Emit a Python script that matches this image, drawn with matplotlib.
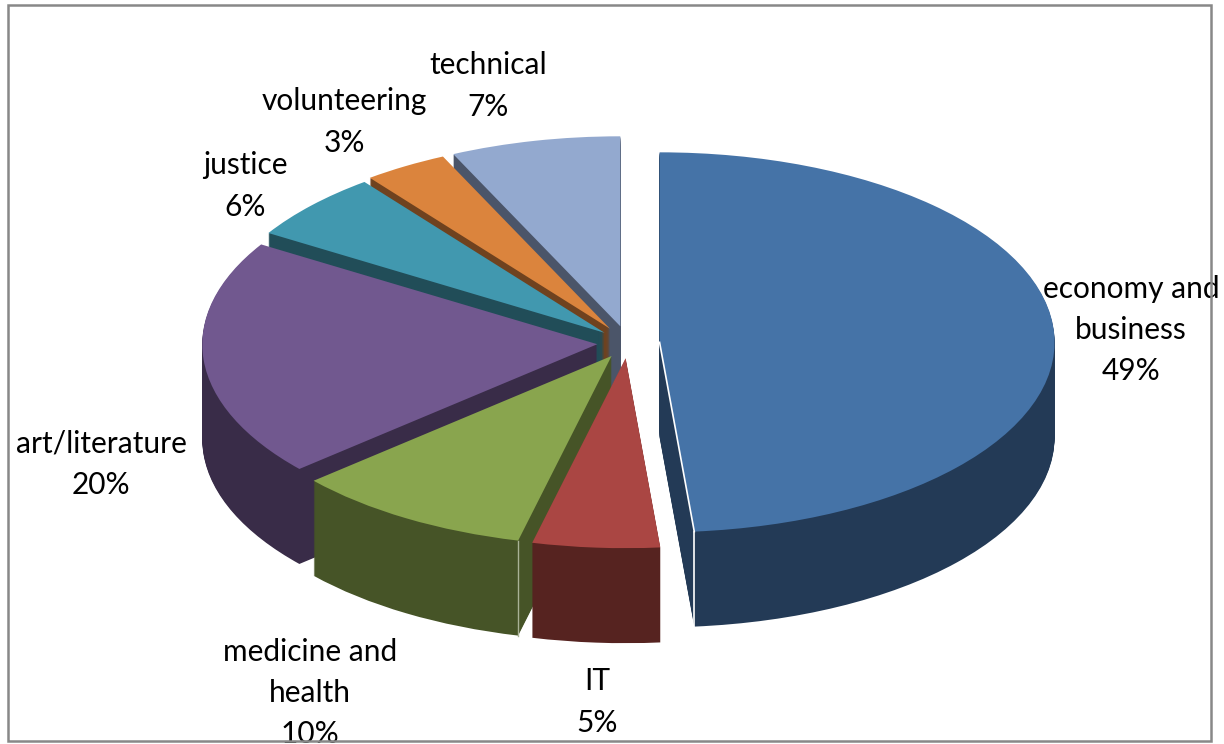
import matplotlib
matplotlib.use("Agg")
import numpy as np
import matplotlib.pyplot as plt
from matplotlib.patches import Rectangle

W, H = 1224, 744

categories = ["economy and\nbusiness", "IT", "medicine and\nhealth", "art/literature",
              "justice", "volunteering", "technical"]
values = [48.6, 5.2, 9.8, 20.2, 5.8, 3.45, 6.95]
top_colors = ["#4573A7", "#AA4643", "#89A54E", "#71588F", "#4198AF", "#DB843D", "#93A9CF"]
side_colors = ["#233A56", "#562320", "#465427", "#392C48", "#214D58", "#6F421F", "#4B5569"]
explode = [0.08, 0.08, 0.08, 0.078, 0.08, 0.088, 0.09]
# painter's order: back slices first
draw_order = [6, 5, 4, 3, 0, 2, 1]
label_pos_px = [(1131, 330), (597, 702), (310, 693), (101, 464), (245, 186), (344, 122), (488, 86)]

cx, cy, rx, ry, depth_px = 628, 343, 395, 190, 95

plt.rcParams["font.family"] = ["Lato", "DejaVu Sans"]
fig = plt.figure(figsize=(W / 100, H / 100), dpi=100, facecolor="white")
ax = fig.add_axes([0, 0, 1, 1])

for d in range(depth_px, 0, -1):
    side, _ = ax.pie(values, colors=side_colors, explode=explode, startangle=90,
                     counterclock=False, center=(0, -d / ry), radius=1,
                     wedgeprops=dict(linewidth=0))
    for i, w in enumerate(side):
        w.set_zorder(10 * draw_order.index(i) + 1 + (depth_px - d) / depth_px)
top, _ = ax.pie(values, colors=top_colors, explode=explode, startangle=90,
                counterclock=False, radius=1, wedgeprops=dict(linewidth=0))
for i, w in enumerate(top):
    w.set_zorder(10 * draw_order.index(i) + 3)


def rim_point(wedge, theta):
    return (wedge.center[0] + np.cos(np.radians(theta)),
            wedge.center[1] + np.sin(np.radians(theta)))


# light seams along slice edges, taken from the wedge geometry
econ = top[0]
ex, ey = rim_point(econ, econ.theta1)
z0 = 10 * draw_order.index(0) + 4
ax.plot([econ.center[0], ex], [econ.center[1], ey], color="white", lw=1.2, zorder=z0)
ax.plot([ex, ex], [ey, ey - depth_px / ry], color="white", lw=1.2, zorder=z0)
med = top[2]
mx, my = rim_point(med, med.theta2)
ax.plot([mx, mx], [my, my - depth_px / ry], color="#A9B296", lw=1, zorder=10 * draw_order.index(2) + 4)

ax.set_aspect("auto")
ax.set_xlim(-cx / rx, (W - cx) / rx)
ax.set_ylim((cy - H) / ry, cy / ry)
ax.axis("off")

for cat, val, (px, py) in zip(categories, values, label_pos_px):
    fig.text(px / W, 1 - py / H, f"{cat}\n{round(val)}%", ha="center", va="center",
             fontsize=21.5, color="black", linespacing=1.57, multialignment="center")

fig.add_artist(Rectangle((8 / W, 1 - 741 / H), 1203 / W, 736 / H, transform=fig.transFigure,
                         fill=False, edgecolor="#888888", linewidth=1.8, zorder=10))
fig.savefig("out.png", dpi=100)
